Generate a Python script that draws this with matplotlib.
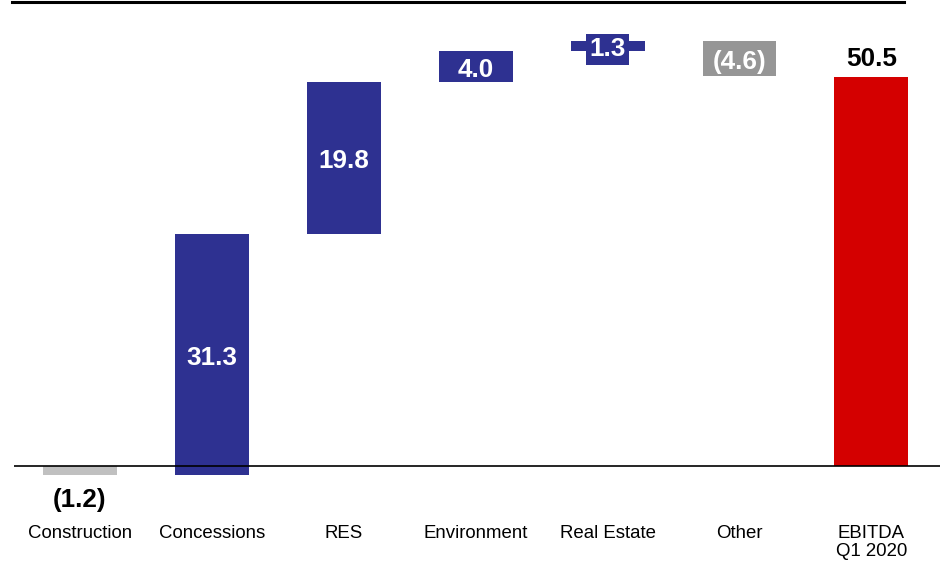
import matplotlib.pyplot as plt
from matplotlib.lines import Line2D

plt.rcParams['font.family'] = ['Liberation Sans', 'DejaVu Sans']

categories = ['Construction', 'Concessions', 'RES', 'Environment', 'Real Estate', 'Other', 'EBITDA\nQ1 2020']
changes = [-1.2, 31.3, 19.8, 4.0, 1.3, -4.6]
total = 50.5
labels = ['(1.2)', '31.3', '19.8', '4.0', '1.3', '(4.6)', '50.5']

navy = '#2e3191'
colors = ['#c0c0c0', navy, navy, navy, navy, '#969696', '#d40000']

# running bottoms for the waterfall steps
bottoms = []
level = 0.0
for c in changes:
    bottoms.append(level if c >= 0 else level + c)
    level += c
heights = [abs(c) for c in changes] + [total]
bottoms.append(0.0)

fig = plt.figure(figsize=(9.44, 5.64), dpi=100)
ax = fig.add_axes([14 / 944, 74 / 564, 926 / 944, 490 / 564])

x = list(range(len(categories)))
ax.bar(x, heights, bottom=bottoms, width=0.56, color=colors, zorder=2)
ax.axhline(0, color='black', lw=1.2, zorder=3)

ax.set_xlim(-0.5, 6.52)
ax.set_ylim(-24 / 7.7, 466 / 7.7)
ax.axis('off')

big = dict(fontsize=18.8, fontweight='bold', ha='center', va='center')
nudge = 0.45  # small downward shift so the digits sit centred
for i in range(len(categories)):
    mid = bottoms[i] + heights[i] / 2 - nudge
    if i == 0:
        ax.text(i, -4.4, labels[i], color='black', **big)
    elif i == 4:
        ax.text(i, mid, labels[i], color='white', zorder=4,
                bbox=dict(boxstyle='square,pad=0.12', fc=navy, ec='none'), **big)
    elif i == 6:
        ax.text(i, total + 2.4, labels[i], color='black', **big)
    else:
        ax.text(i, mid, labels[i], color='white', zorder=4, **big)

for i, name in enumerate(categories):
    ax.text(i, -7.6, name, fontsize=13.4, ha='center', va='top', linespacing=1.1)

# rule along the top edge
fig.add_artist(Line2D([12 / 944, 904 / 944], [1 - 1.5 / 564, 1 - 1.5 / 564],
                      color='black', lw=2.2, transform=fig.transFigure))

fig.savefig('out.png', dpi=100)
